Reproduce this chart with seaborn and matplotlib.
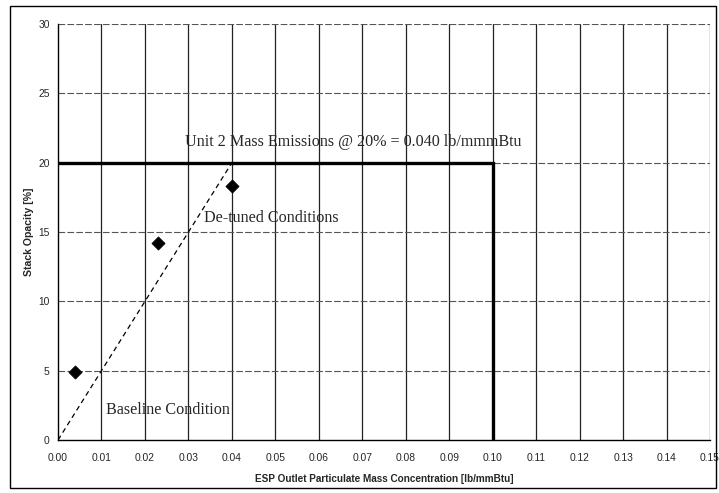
import matplotlib
matplotlib.use("Agg")
import matplotlib.pyplot as plt
import seaborn as sns
import pandas as pd
import numpy as np
from matplotlib.patches import Rectangle

# Data
conc = [0.004, 0.023, 0.040]
opacity = [4.9, 14.2, 18.3]
trend_x = [0.0, 0.040]
trend_y = [0.0, 20.0]
limit_x = [0.0, 0.10, 0.10]
limit_y = [20.0, 20.0, 0.0]
x_ticks = [round(0.01 * i, 2) for i in range(16)]
y_ticks = [0, 5, 10, 15, 20, 25, 30]

sns.set_theme(style="white")
plt.rcParams['font.family'] = ['Liberation Sans', 'DejaVu Sans']

fig = plt.figure(figsize=(7.19, 4.93), dpi=100)
ax = fig.add_axes([0.0807, 0.1075, 0.9068, 0.8435])

df = pd.DataFrame({"x": conc, "y": opacity})

# grid
for xt in x_ticks[1:]:
    ax.axvline(xt, color="#222222", lw=0.9, zorder=0)
for yt in y_ticks[1:]:
    ax.axhline(yt, color="#555555", lw=0.8, ls=(0, (6, 2)), zorder=0)

sns.lineplot(x=trend_x, y=trend_y, ax=ax, color="black", lw=0.9,
             linestyle=(0, (4, 3)), zorder=2)
ax.plot(limit_x, limit_y, color="black", lw=2.4, solid_joinstyle="miter", zorder=3)
sns.scatterplot(data=df, x="x", y="y", ax=ax, marker="D", s=45,
                color="black", edgecolor="black", zorder=4)

ax.set_xlim(0, 0.15)
ax.set_ylim(0, 30)
ax.set_xticks(x_ticks)
ax.set_xticklabels([f"{v:.2f}" for v in x_ticks])
ax.set_yticks(y_ticks)
ax.tick_params(axis="both", labelsize=7.4, length=3, direction="out", color="black", pad=3)
ax.tick_params(axis="x", pad=6)

for s in ["top", "right"]:
    ax.spines[s].set_visible(False)
for s in ["left", "bottom"]:
    ax.spines[s].set_color("black")
    ax.spines[s].set_linewidth(1.0)

ax.set_xlabel("ESP Outlet Particulate Mass Concentration [lb/mmBtu]",
              fontsize=7.2, fontweight="bold", labelpad=8)
ax.set_ylabel("Stack Opacity [%]", fontsize=7.6, fontweight="bold", labelpad=3)

serif = ['Liberation Serif', 'DejaVu Serif']
ax.text(0.0293, 21.5, "Unit 2 Mass Emissions @ 20% = 0.040 lb/mmmBtu",
        family=serif, fontsize=11.6, va="center", ha="left")
ax.text(0.0336, 16.0, "De-tuned Conditions", family=serif, fontsize=11.6,
        va="center", ha="left")
ax.text(0.011, 2.2, "Baseline Condition", family=serif, fontsize=11.6,
        va="center", ha="left")

fig.patches.append(Rectangle((10 / 719, 5 / 493), 706 / 719, 482 / 493,
                             transform=fig.transFigure, fill=False,
                             edgecolor="black", lw=1.0))

fig.savefig("out.png", dpi=100)
